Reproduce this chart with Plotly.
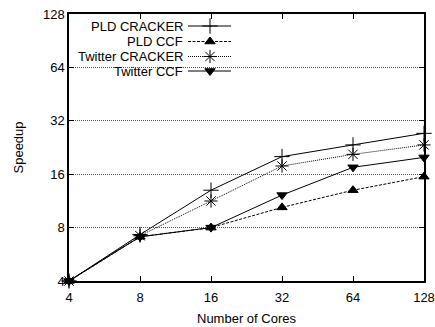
import plotly.graph_objects as go
import math

cores = [4, 8, 16, 32, 64, 128]
pld_cracker = [4.0, 7.3, 13.0, 20.1, 23.4, 27.2]
pld_ccf = [4.0, 7.1, 8.0, 10.4, 13.0, 15.5]
twitter_cracker = [4.0, 7.2, 11.3, 17.8, 20.7, 23.4]
twitter_ccf = [4.0, 7.1, 8.0, 12.2, 17.5, 19.9]
y_ticks = [4, 8, 16, 32, 64, 128]
series_names = ["PLD CRACKER", "PLD CCF", "Twitter CRACKER", "Twitter CCF"]

styles = [
    dict(symbol="cross-thin-open", size=11, dash="solid"),
    dict(symbol="triangle-up", size=9, dash="3px,1.5px"),
    dict(symbol="asterisk-open", size=11, dash="1px,1px"),
    dict(symbol="triangle-down", size=9, dash="solid"),
]
series = [pld_cracker, pld_ccf, twitter_cracker, twitter_ccf]

fig = go.Figure()
for name, vals, st in zip(series_names, series, styles):
    fig.add_trace(go.Scatter(
        x=cores, y=vals, name=name, mode="lines+markers",
        line=dict(color="black", width=1, dash=st["dash"]),
        marker=dict(symbol=st["symbol"], size=st["size"], color="black",
                    line=dict(color="black", width=1)),
        cliponaxis=False, showlegend=False,
    ))

# manual legend (text right, key to the right), in pixel-like overlay axes
leg_rows = [26, 41.5, 56.5, 71]
for name, row, st in zip(series_names, leg_rows, styles):
    fig.add_trace(go.Scatter(
        x=[188, 231], y=[row, row], mode="lines", xaxis="x2", yaxis="y2",
        line=dict(color="black", width=1, dash=st["dash"]),
        showlegend=False, hoverinfo="skip", cliponaxis=False,
    ))
    fig.add_trace(go.Scatter(
        x=[210], y=[row], mode="markers", xaxis="x2", yaxis="y2",
        marker=dict(symbol=st["symbol"], size=st["size"], color="black",
                    line=dict(color="black", width=1)),
        showlegend=False, hoverinfo="skip", cliponaxis=False,
    ))
    fig.add_annotation(x=185, y=row, xref="x2", yref="y2", text=name,
                       showarrow=False, xanchor="right", yanchor="middle",
                       font=dict(size=13, color="black"))

# legend background blanking the grid
fig.add_shape(type="rect", xref="paper", yref="paper",
              x0=1 / 355, x1=166 / 355, y0=202 / 267, y1=266 / 267,
              fillcolor="white", line=dict(width=0), layer="between")

font = "Liberation Sans, Arial, sans-serif"
eps = 1e-6
log_range = [math.log10(4) - eps, math.log10(128) + eps]
fig.update_layout(
    width=435, height=327,
    margin=dict(l=69, r=11, t=14, b=46, autoexpand=False),
    paper_bgcolor="white", plot_bgcolor="white",
    font=dict(family=font, size=13, color="black"),
    xaxis=dict(type="log", range=log_range, automargin=False,
               tickvals=cores, ticktext=[str(c) for c in cores],
               showgrid=False, zeroline=False, ticklabelstandoff=4,
               showline=True, linecolor="black", linewidth=1.5, mirror="ticks",
               ticks="inside", ticklen=5, tickcolor="black", tickwidth=1),
    yaxis=dict(type="log", range=log_range, automargin=False,
               tickvals=y_ticks, ticktext=[str(v) for v in y_ticks],
               showgrid=True, gridcolor="#555", gridwidth=1, griddash="1px,1px",
               zeroline=False,
               showline=True, linecolor="black", linewidth=1.5, mirror="ticks",
               ticks="inside", ticklen=5, tickcolor="black", tickwidth=1),
    xaxis2=dict(overlaying="x", range=[69, 424], visible=False, automargin=False),
    yaxis2=dict(overlaying="y", range=[281, 14], visible=False, automargin=False),
)
fig.add_annotation(x=0.5, y=0, xref="paper", yref="paper", yshift=-37,
                   text="Number of Cores", showarrow=False,
                   xanchor="center", yanchor="middle", font=dict(size=13))
fig.add_annotation(x=0, y=0.5, xref="paper", yref="paper", xshift=-51,
                   text="Speedup", showarrow=False, textangle=-90,
                   xanchor="center", yanchor="middle", font=dict(size=13))

fig.write_html("out.html",
               config={"displayModeBar": False},
               post_script="document.body.style.margin='0';"
                           "document.body.style.overflow='hidden';")
